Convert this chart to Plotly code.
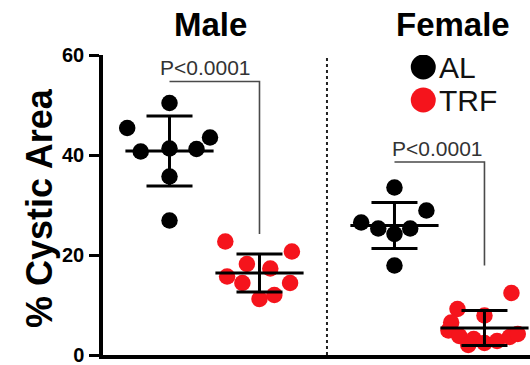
import plotly.graph_objects as go

# Cystic area (%) per animal, by sex and feeding regimen
groups = ["Male AL", "Male TRF", "Female AL", "Female TRF"]
group_pos = [0.0, 1.0, 2.5, 3.5]

male_al = [50.4, 45.4, 40.7, 41.3, 41.2, 43.5, 35.7, 26.9]
male_trf = [22.7, 20.7, 18.2, 17.3, 15.7, 14.4, 14.4, 11.2, 12.0]
female_al = [33.5, 28.9, 26.5, 25.3, 24.2, 25.3, 17.9]
female_trf = [12.4, 9.2, 7.9, 6.5, 4.9, 3.8, 3.2, 2.4, 2.8, 3.6, 4.2, 2.0]

# horizontal swarm offsets so overlapping dots stay visible
male_al_dx = [0.0, -0.47, -0.32, 0.0, 0.30, 0.45, 0.0, 0.0]
male_trf_dx = [-0.38, 0.36, -0.14, 0.12, -0.36, -0.19, 0.34, 0.0, 0.165]
female_al_dx = [0.0, 0.355, -0.37, -0.18, 0.0, 0.175, 0.0]
female_trf_dx = [0.30, -0.30, 0.0, -0.37, -0.40, -0.28, -0.12, 0.0, 0.14, 0.28, 0.37, -0.18]

# group mean and SD
means = [40.8, 16.4, 25.9, 5.4]
sds = [7.0, 3.8, 4.6, 3.5]

p_labels = ["P<0.0001", "P<0.0001"]
panel_titles = ["Male", "Female"]
legend_labels = ["AL", "TRF"]

BLACK = "#000000"
RED = "#f5141c"
FONT = "Liberation Sans, Arial, sans-serif"

series = [
    (male_al, male_al_dx, group_pos[0], BLACK),
    (male_trf, male_trf_dx, group_pos[1], RED),
    (female_al, female_al_dx, group_pos[2], BLACK),
    (female_trf, female_trf_dx, group_pos[3], RED),
]

fig = go.Figure()

for vals, dx, pos, col in series:
    fig.add_trace(go.Scatter(
        x=[pos + d for d in dx], y=vals, mode="markers",
        marker=dict(size=16.5, color=col, line=dict(width=0)),
        showlegend=False, hoverinfo="y",
    ))

# mean line with SD whiskers
fig.add_trace(go.Scatter(
    x=group_pos, y=means, mode="markers",
    marker=dict(size=1, color="rgba(0,0,0,0)"),
    error_y=dict(type="data", array=sds, visible=True, width=23,
                 thickness=3, color=BLACK),
    error_x=dict(type="constant", value=0.49, visible=True, width=0,
                 thickness=3, color=BLACK),
    showlegend=False, hoverinfo="skip",
))

shapes = []
annotations = []

# dotted separator between the sexes
shapes.append(dict(type="line", xref="x", yref="y", x0=1.75, x1=1.75,
                   y0=0, y1=60.5, line=dict(color="#222", width=2, dash="dot")))

# significance brackets
brackets = [
    (group_pos[0], group_pos[1], 54.7, 24.2, 0.40, 57.6),
    (group_pos[2], group_pos[3], 38.6, 17.9, 2.98, 41.4),
]
for (xa, xb, ytop, ybot, tx, ty), lab in zip(brackets, p_labels):
    shapes.append(dict(type="path", xref="x", yref="y",
                       path=f"M {xa},{ytop} L {xb},{ytop} L {xb},{ybot}",
                       line=dict(color="#4a4a4a", width=1.6)))
    annotations.append(dict(x=tx, y=ty, xref="x", yref="y", text=lab,
                            xanchor="center", yanchor="middle",
                            showarrow=False,
                            font=dict(family=FONT, size=21, color="#333")))

# panel titles
for tx, title in zip([0.46, 3.15], panel_titles):
    annotations.append(dict(x=tx, y=1.10, xref="x", yref="paper",
                            text=f"<b>{title}</b>", showarrow=False,
                            xanchor="center", yanchor="middle",
                            font=dict(family=FONT, size=33, color=BLACK)))

# legend: large dots with labels
for (ly, col), lab in zip([(57.6, BLACK), (51.0, RED)], legend_labels):
    shapes.append(dict(type="circle", xref="x", yref="y",
                       xsizemode="pixel", ysizemode="pixel",
                       xanchor=2.82, yanchor=ly, x0=-12.5, x1=12.5,
                       y0=-12.5, y1=12.5, fillcolor=col,
                       line=dict(width=0)))
    annotations.append(dict(x=2.97, y=ly, xref="x", yref="y", text=lab,
                            xanchor="left", yanchor="middle", showarrow=False,
                            font=dict(family=FONT, size=30, color="#111")))

# y-axis title
annotations.append(dict(x=-0.15, y=0.49, xref="paper", yref="paper",
                        text="<b>% Cystic Area</b>", textangle=-90,
                        xanchor="center", yanchor="middle",
                        showarrow=False,
                        font=dict(family=FONT, size=36, color=BLACK)))

fig.update_layout(
    width=530, height=365,
    margin=dict(l=103, r=0, t=55, b=10),
    paper_bgcolor="white", plot_bgcolor="white",
    shapes=shapes, annotations=annotations,
    xaxis=dict(range=[-0.739, 4.006], showgrid=False, zeroline=False,
               showticklabels=False, ticks="", showline=True,
               linecolor=BLACK, linewidth=4),
    yaxis=dict(range=[0, 60], tickvals=[0, 20, 40, 60], showgrid=False,
               zeroline=False, showline=True, linecolor=BLACK, linewidth=3.5,
               ticks="outside", ticklen=10, tickwidth=3, tickcolor=BLACK,
               ticklabeloverflow="allow", ticklabelstandoff=1,
               tickfont=dict(family=FONT, size=20, color=BLACK, weight="bold")),
    font=dict(family=FONT),
)

fig.write_html("out.html")
